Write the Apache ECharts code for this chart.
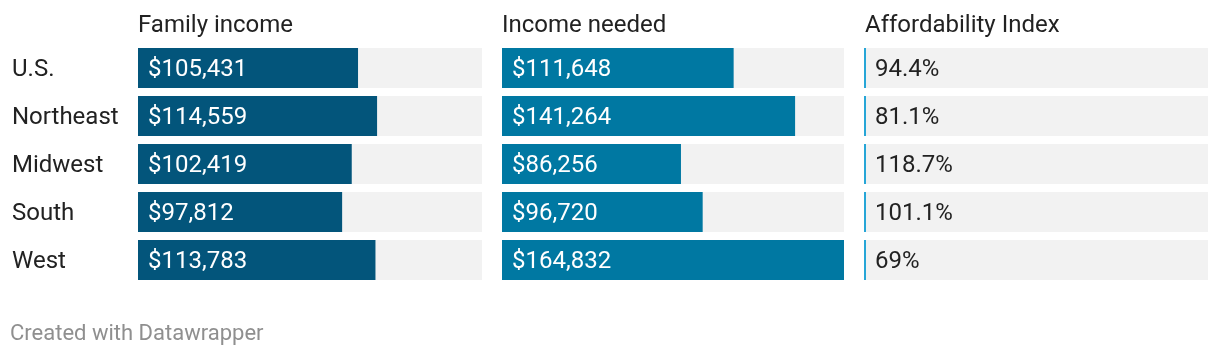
<!DOCTYPE html>
<html>
<head>
<meta charset="utf-8">
<script src="https://cdn.jsdelivr.net/npm/echarts@6/dist/echarts.min.js"></script>
<style>
html,body{margin:0;padding:0;background:#fff;}
#chart{width:1220px;height:356px;}
</style>
</head>
<body>
<div id="chart"></div>
<script>
const categories = ['U.S.', 'Northeast', 'Midwest', 'South', 'West'];
const familyIncome = [105431, 114559, 102419, 97812, 113783];
const incomeNeeded = [111648, 141264, 86256, 96720, 164832];
const affordabilityIndex = [94.4, 81.1, 118.7, 101.1, 69];
const columnTitles = ['Family income', 'Income needed', 'Affordability Index'];
const footerText = 'Created with Datawrapper';

const FONT = 'Roboto, "Noto Sans", sans-serif';
const FS = 24;
const DY = 2;
const maxIncome = Math.max(...familyIncome, ...incomeNeeded);
const fmtMoney = v => '$' + v.toLocaleString('en-US');

const chart = echarts.init(document.getElementById('chart'), null, {renderer: 'canvas'});

const grids = [
  {left: 138, top: 44, width: 344, height: 240},
  {left: 502, top: 44, width: 342, height: 240},
  {left: 864, top: 44, width: 344, height: 240}
];

const yAxes = grids.map((g, i) => ({
  type: 'category', gridIndex: i, data: categories, inverse: true,
  axisLine: {show: false}, axisTick: {show: false}, splitLine: {show: false},
  axisLabel: {show: false}
}));

const xAxes = [
  {type: 'value', gridIndex: 0, min: 0, max: maxIncome, show: false},
  {type: 'value', gridIndex: 1, min: 0, max: maxIncome, show: false},
  {type: 'value', gridIndex: 2, min: 0, max: 1, show: false}
];

const valueLabel = {
  show: true, position: 'insideLeft', distance: 10, offset: [0, DY], color: '#fff',
  fontSize: FS, fontFamily: FONT, formatter: p => fmtMoney(p.value)
};

const option = {
  animation: false,
  backgroundColor: '#fff',
  title: columnTitles.map((t, i) => ({
    text: t, left: [138, 502, 865][i], top: 14, padding: 0,
    textStyle: {color: '#222', fontSize: FS, fontWeight: 'normal', fontFamily: FONT}
  })).concat([{
    text: footerText, left: 10, top: 323, padding: 0,
    textStyle: {color: '#8f8f8f', fontSize: 22, fontWeight: 'normal', fontFamily: FONT}
  }]),
  grid: grids,
  xAxis: xAxes,
  yAxis: yAxes,
  series: [
    {
      type: 'bar', xAxisIndex: 0, yAxisIndex: 0, data: familyIncome, barWidth: 40,
      itemStyle: {color: '#03557b'}, showBackground: true,
      backgroundStyle: {color: '#f2f2f2'}, label: valueLabel
    },
    {
      type: 'bar', xAxisIndex: 1, yAxisIndex: 1, data: incomeNeeded, barWidth: 40,
      itemStyle: {color: '#0078a2'}, showBackground: true,
      backgroundStyle: {color: '#f2f2f2'}, label: valueLabel
    },
    {
      // row labels placed through the category axis of the first column
      type: 'custom', xAxisIndex: 0, yAxisIndex: 0,
      data: categories.map((c, i) => [0, i]),
      encode: {x: 0, y: 1},
      renderItem: (params, api) => {
        const p = api.coord([0, api.value(1)]);
        return {type: 'text', x: p[0] - 126, y: p[1] + DY,
          style: {text: categories[api.value(1)], fill: '#222', fontSize: FS, fontFamily: FONT,
                  verticalAlign: 'middle', align: 'left'}};
      }
    },
    {
      type: 'custom', xAxisIndex: 2, yAxisIndex: 2,
      data: affordabilityIndex.map((v, i) => [i, v]),
      encode: {y: 0},
      renderItem: (params, api) => {
        const idx = api.value(0);
        const start = api.coord([0, idx]);
        const end = api.coord([1, idx]);
        const h = 40;
        const x0 = start[0], y0 = start[1] - h / 2, w = end[0] - start[0];
        return {
          type: 'group',
          children: [
            {type: 'rect', shape: {x: x0, y: y0, width: w, height: h}, style: {fill: '#f2f2f2'}},
            {type: 'rect', shape: {x: x0, y: y0, width: 2, height: h}, style: {fill: '#27a6d7'}},
            {type: 'text', x: x0 + 11, y: start[1] + DY,
             style: {text: String(api.value(1)) + '%', fill: '#222', fontSize: FS, fontFamily: FONT,
                     verticalAlign: 'middle', align: 'left'}}
          ]
        };
      }
    }
  ]
};
chart.setOption(option);
</script>
</body>
</html>
